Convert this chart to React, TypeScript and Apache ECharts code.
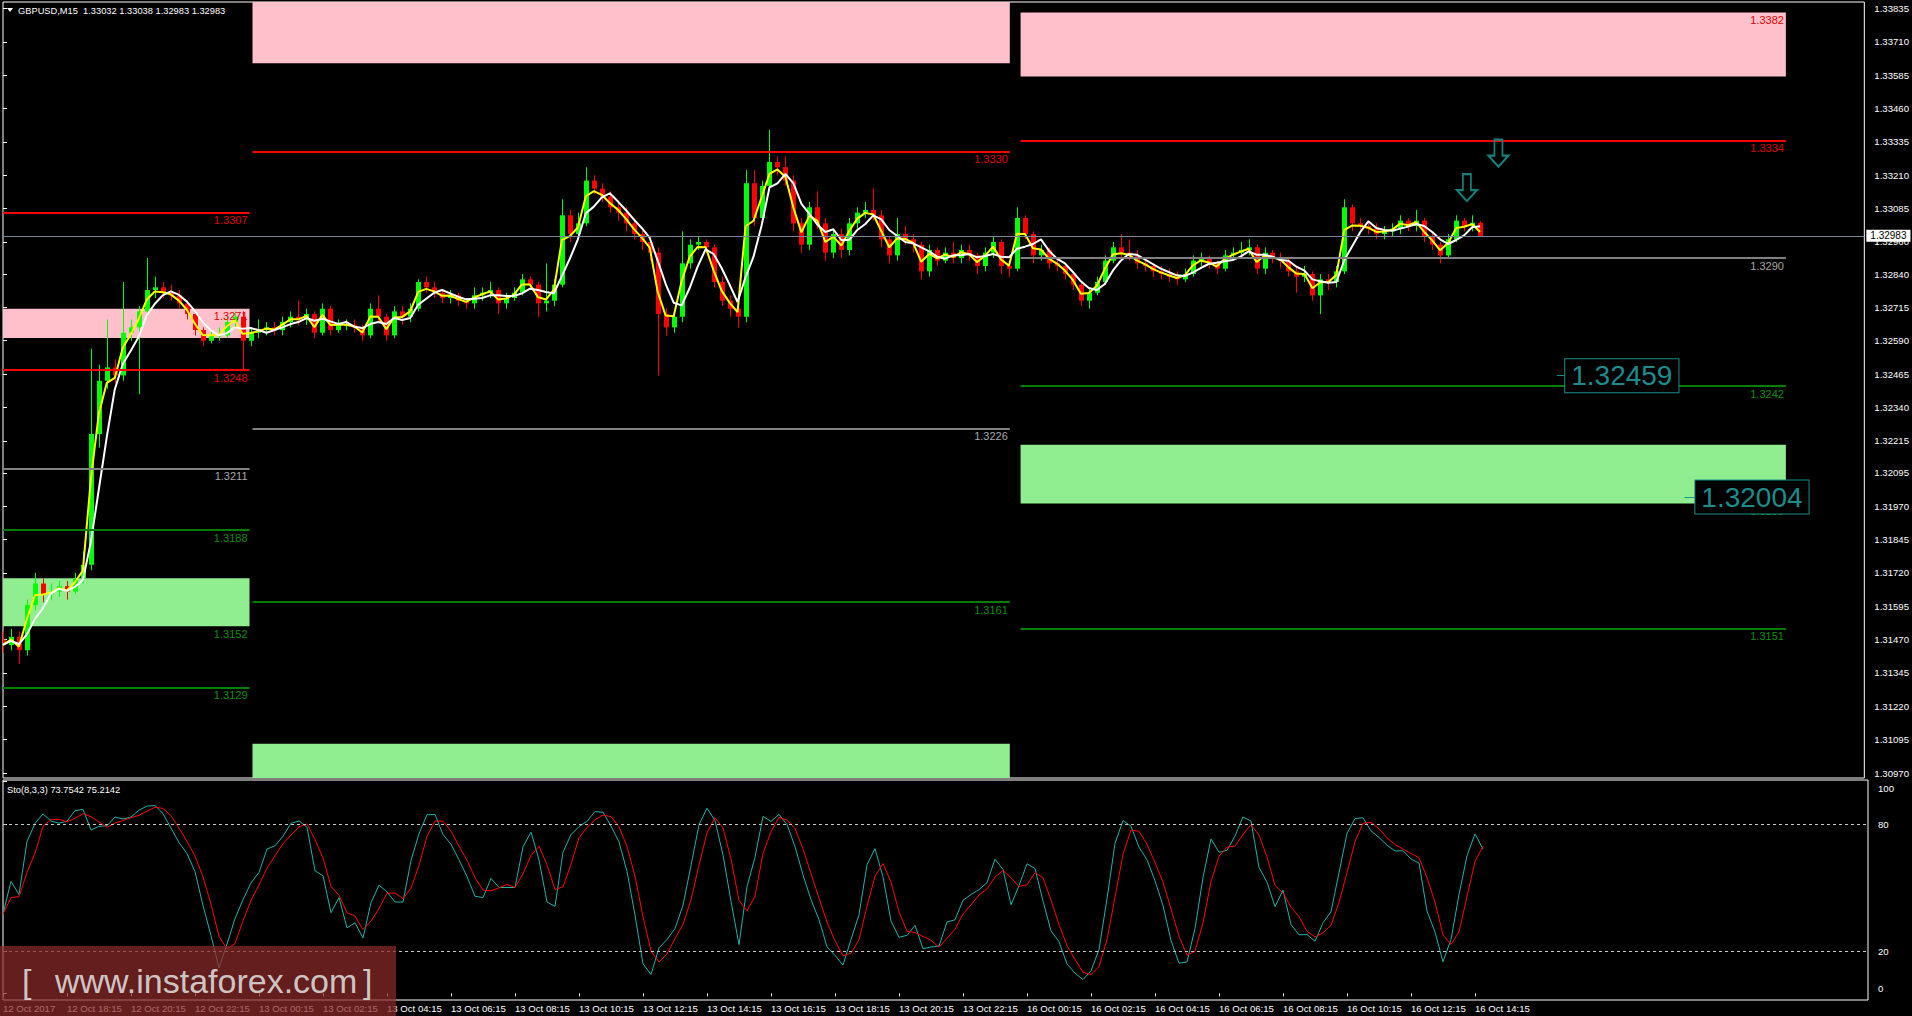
import React, { useEffect, useRef } from "react";
import * as echarts from "echarts";

// ---------- candle data (GBPUSD M15, bar 0 = 12 Oct 2017 16:15) ----------
const opens = [
  1.3147, 1.3145, 1.3148, 1.3143, 1.316, 1.3168, 1.3164, 1.3165, 1.3167, 1.3165,
  1.317, 1.3175, 1.3224, 1.3244, 1.3249, 1.3246, 1.3262, 1.3264, 1.327, 1.3278,
  1.3279, 1.3277, 1.3276, 1.3273, 1.3269, 1.3263, 1.3259, 1.3261, 1.3261, 1.3266,
  1.3268, 1.3259, 1.3262, 1.3263, 1.3264, 1.3263, 1.3266, 1.3268, 1.3267, 1.3269,
  1.3262, 1.3271, 1.3263, 1.3265, 1.3265, 1.3264, 1.3261, 1.3271, 1.3268, 1.3261,
  1.327, 1.3268, 1.3271, 1.3281, 1.3279, 1.3277, 1.3275, 1.3276, 1.3274, 1.3273,
  1.3276, 1.3277, 1.3278, 1.3273, 1.3275, 1.3277, 1.3282, 1.328, 1.3273, 1.3274,
  1.328, 1.3306, 1.3299, 1.3303, 1.3319, 1.3316, 1.3313, 1.3309, 1.3307, 1.3303,
  1.3299, 1.3296, 1.3292, 1.3269, 1.3264, 1.3268, 1.3288, 1.3295, 1.3296, 1.3294,
  1.3281, 1.3274, 1.3271, 1.3268, 1.3318, 1.3305, 1.3317, 1.3326, 1.3324, 1.3319,
  1.3303, 1.3295, 1.3309, 1.3303, 1.3292, 1.3299, 1.3293, 1.3303, 1.3307, 1.3308,
  1.3306, 1.3297, 1.3291, 1.3299, 1.3297, 1.3295, 1.3285, 1.3293, 1.3289, 1.3292,
  1.329, 1.3293, 1.3291, 1.3287, 1.3292, 1.3296, 1.3287, 1.3286, 1.3305, 1.3299,
  1.3291, 1.3293, 1.3288, 1.3287, 1.3284, 1.328, 1.3274, 1.3277, 1.3281, 1.3289,
  1.3294, 1.3292, 1.3291, 1.3288, 1.3287, 1.3285, 1.3284, 1.3283, 1.3282, 1.3284,
  1.3289, 1.329, 1.3288, 1.3286, 1.3291, 1.3292, 1.3293, 1.3294, 1.3286, 1.3292,
  1.329, 1.3289, 1.3285, 1.3283, 1.3284, 1.3276, 1.3282, 1.3281, 1.3285, 1.3309,
  1.3303, 1.3302, 1.3301, 1.3299, 1.33, 1.3301, 1.3304, 1.3302, 1.3304, 1.3298,
  1.3295, 1.3291, 1.3297, 1.3304, 1.3302, 1.33032,
];
const closes = [
  1.3145, 1.3148, 1.3143, 1.316, 1.3168, 1.3164, 1.3165, 1.3167, 1.3165, 1.317,
  1.3175, 1.3224, 1.3244, 1.3249, 1.3246, 1.3262, 1.3264, 1.327, 1.3278, 1.3279,
  1.3277, 1.3276, 1.3273, 1.3269, 1.3263, 1.3259, 1.3261, 1.3261, 1.3266, 1.3268,
  1.3259, 1.3262, 1.3263, 1.3264, 1.3263, 1.3266, 1.3268, 1.3267, 1.3269, 1.3262,
  1.3271, 1.3263, 1.3265, 1.3265, 1.3264, 1.3261, 1.3271, 1.3268, 1.3261, 1.327,
  1.3268, 1.3271, 1.3281, 1.3279, 1.3277, 1.3275, 1.3276, 1.3274, 1.3273, 1.3276,
  1.3277, 1.3278, 1.3273, 1.3275, 1.3277, 1.3282, 1.328, 1.3273, 1.3274, 1.328,
  1.3306, 1.3299, 1.3303, 1.3319, 1.3316, 1.3313, 1.3309, 1.3307, 1.3303, 1.3299,
  1.3296, 1.3292, 1.3269, 1.3264, 1.3268, 1.3288, 1.3295, 1.3296, 1.3294, 1.3281,
  1.3274, 1.3271, 1.3268, 1.3318, 1.3305, 1.3317, 1.3326, 1.3324, 1.3319, 1.3303,
  1.3295, 1.3309, 1.3303, 1.3292, 1.3299, 1.3293, 1.3303, 1.3307, 1.3308, 1.3306,
  1.3297, 1.3291, 1.3299, 1.3297, 1.3295, 1.3285, 1.3293, 1.3289, 1.3292, 1.329,
  1.3293, 1.3291, 1.3287, 1.3292, 1.3296, 1.3287, 1.3286, 1.3305, 1.3299, 1.3291,
  1.3293, 1.3288, 1.3287, 1.3284, 1.328, 1.3274, 1.3277, 1.3281, 1.3289, 1.3294,
  1.3292, 1.3291, 1.3288, 1.3287, 1.3285, 1.3284, 1.3283, 1.3282, 1.3284, 1.3289,
  1.329, 1.3288, 1.3286, 1.3291, 1.3292, 1.3293, 1.3294, 1.3286, 1.3292, 1.329,
  1.3289, 1.3285, 1.3283, 1.3284, 1.3276, 1.3282, 1.3281, 1.3285, 1.3309, 1.3303,
  1.3302, 1.3301, 1.3299, 1.33, 1.3301, 1.3304, 1.3302, 1.3304, 1.3298, 1.3295,
  1.3291, 1.3297, 1.3304, 1.3302, 1.33032, 1.32983,
];
const highs = [
  1.315, 1.3151, 1.315, 1.3162, 1.3172, 1.317, 1.3168, 1.3169, 1.3169, 1.3172,
  1.318, 1.3256, 1.325, 1.3267, 1.3252, 1.3281, 1.3267, 1.3272, 1.329, 1.3283,
  1.3281, 1.328, 1.3278, 1.3274, 1.327, 1.3264, 1.3263, 1.3264, 1.3268, 1.327,
  1.327, 1.3264, 1.3267, 1.3266, 1.3266, 1.3268, 1.327, 1.3274, 1.3271, 1.327,
  1.3273, 1.3272, 1.3267, 1.3267, 1.3267, 1.3265, 1.3273, 1.3276, 1.3269, 1.3272,
  1.3272, 1.3273, 1.3282, 1.3283, 1.3281, 1.3278, 1.3278, 1.3277, 1.3275, 1.3279,
  1.3279, 1.3281, 1.3279, 1.3277, 1.3279, 1.3284, 1.3283, 1.3281, 1.3288, 1.3282,
  1.3312, 1.3308, 1.3307, 1.3324, 1.3321, 1.3318, 1.3315, 1.3311, 1.3309, 1.3305,
  1.3301, 1.3298, 1.3294, 1.3271, 1.327, 1.33, 1.3297, 1.3298, 1.3297, 1.3295,
  1.3283, 1.3276, 1.3273, 1.3323, 1.3323, 1.3319, 1.3338, 1.3328, 1.3328, 1.3321,
  1.3305, 1.3311, 1.3315, 1.3305, 1.3301, 1.3301, 1.3305, 1.3309, 1.3311, 1.3316,
  1.3308, 1.3298, 1.3305, 1.3302, 1.3299, 1.3296, 1.3295, 1.3294, 1.3294, 1.3296,
  1.3295, 1.3295, 1.3292, 1.3294, 1.3298, 1.3297, 1.3289, 1.3309, 1.3306, 1.33,
  1.3295, 1.3294, 1.329, 1.3288, 1.3285, 1.3281, 1.3279, 1.3283, 1.3291, 1.3296,
  1.3299, 1.3297, 1.3293, 1.329, 1.3288, 1.3287, 1.3286, 1.3285, 1.3286, 1.3291,
  1.3292, 1.3291, 1.3289, 1.3293, 1.3294, 1.3296, 1.3297, 1.3295, 1.3294, 1.3293,
  1.3292, 1.329, 1.3287, 1.3287, 1.3285, 1.3284, 1.3284, 1.3287, 1.3312, 1.331,
  1.3305, 1.3304, 1.3303, 1.3302, 1.3303, 1.3306, 1.3305, 1.3308, 1.3305, 1.3299,
  1.3296, 1.3299, 1.3306, 1.3305, 1.3306, 1.33038,
];
const lows = [
  1.3142, 1.3143, 1.3138, 1.3141, 1.3158, 1.3161, 1.3162, 1.3163, 1.3162, 1.3164,
  1.3168, 1.3173, 1.3219, 1.3241, 1.3243, 1.3244, 1.3259, 1.3239, 1.3268, 1.3275,
  1.3275, 1.3274, 1.3271, 1.3267, 1.3261, 1.3257, 1.3258, 1.3259, 1.326, 1.3264,
  1.3248, 1.3257, 1.326, 1.3261, 1.3261, 1.3261, 1.3264, 1.3265, 1.3265, 1.326,
  1.3261, 1.3261, 1.3262, 1.3263, 1.3262, 1.3259, 1.326, 1.3266, 1.3259, 1.326,
  1.3265, 1.3266, 1.327, 1.3277, 1.3275, 1.3273, 1.3273, 1.3272, 1.3271, 1.3271,
  1.3274, 1.3275, 1.3269, 1.3271, 1.3274, 1.3276, 1.3278, 1.3268, 1.327, 1.3272,
  1.3279, 1.3296, 1.3297, 1.3302, 1.3314, 1.3311, 1.3307, 1.3304, 1.33, 1.3297,
  1.3293, 1.3289, 1.3246, 1.3261, 1.3262, 1.3266, 1.3286, 1.3293, 1.3292, 1.3279,
  1.3272, 1.3268, 1.3264, 1.3266, 1.3302, 1.3303, 1.3315, 1.3321, 1.3317, 1.33,
  1.3292, 1.3293, 1.3301, 1.3289, 1.329, 1.329, 1.3291, 1.3301, 1.3305, 1.3304,
  1.3294, 1.3288, 1.3289, 1.3295, 1.3292, 1.3282, 1.3283, 1.3287, 1.3288, 1.3288,
  1.3288, 1.3289, 1.3284, 1.3285, 1.329, 1.3284, 1.3283, 1.3285, 1.3297, 1.3288,
  1.3289, 1.3286, 1.3285, 1.3282, 1.3278, 1.3272, 1.3271, 1.3276, 1.328, 1.3288,
  1.329, 1.3289, 1.3286, 1.3285, 1.3283, 1.3282, 1.3281, 1.328, 1.3281, 1.3283,
  1.3287, 1.3286, 1.3284, 1.3285, 1.329, 1.3291, 1.3291, 1.3284, 1.3284, 1.3288,
  1.3286, 1.3283, 1.3277, 1.3281, 1.3274, 1.3269, 1.3278, 1.3279, 1.3284, 1.33,
  1.3299, 1.3299, 1.3297, 1.3297, 1.3298, 1.3299, 1.33, 1.33, 1.3296, 1.3293,
  1.3288, 1.329, 1.3296, 1.33, 1.33, 1.32983,
];

// ---------- axis tick labels ----------
const timeTickLabels = [
  "12 Oct 2017", "12 Oct 18:15", "12 Oct 20:15", "12 Oct 22:15", "13 Oct 00:15", "13 Oct 02:15",
  "13 Oct 04:15", "13 Oct 06:15", "13 Oct 08:15", "13 Oct 10:15", "13 Oct 12:15", "13 Oct 14:15",
  "13 Oct 16:15", "13 Oct 18:15", "13 Oct 20:15", "13 Oct 22:15", "16 Oct 00:15", "16 Oct 02:15",
  "16 Oct 04:15", "16 Oct 06:15", "16 Oct 08:15", "16 Oct 10:15", "16 Oct 12:15", "16 Oct 14:15",
];
const BARS_PER_TIME_LABEL = 8;
const priceTicks = [
  1.33835, 1.3371, 1.33585, 1.3346, 1.33335, 1.3321, 1.33085, 1.3296, 1.3284, 1.32715,
  1.3259, 1.32465, 1.3234, 1.32215, 1.32095, 1.3197, 1.31845, 1.3172, 1.31595, 1.3147,
  1.31345, 1.3122, 1.31095, 1.3097,
];
const stochTicks = [0, 20, 80, 100];
const stochLevels = [20, 80];
const lastBid = 1.32983;

// ---------- analysis objects (time anchors in bar units, prices) ----------
const sectionBars = [
  [0, 30.875],
  [31.25, 126.1],
  [127.45, 223.3],
];
const redLevels = [
  [0, 1.3307],
  [0, 1.3248],
  [1, 1.333],
  [2, 1.3334],
];
const greyLevels = [
  [0, 1.3211],
  [1, 1.3226],
  [2, 1.329],
];
const greenLevels = [
  [0, 1.3188],
  [0, 1.3129],
  [1, 1.3161],
  [2, 1.3242],
  [2, 1.3151],
];
const supplyZones = [
  [0, 1.326, 1.3271],
  [1, 1.3363, 1.3386],
  [2, 1.3358, 1.3382],
];
const demandZones = [
  [0, 1.3152, 1.317],
  [1, 1.3095, 1.3108],
  [2, 1.3198, 1.322],
];
const supplyZoneLabels = [
  [0, 1.3271],
  [2, 1.3382],
];
const demandZoneLabels = [
  [0, 1.3152],
  [2, 1.3198],
];
const priceTags = [
  [194.6, 195.6, 1.32459],
  [210.6, 211.9, 1.32004],
];
const arrowMarks = [
  [183.35, 1.33164],
  [187.3, 1.33293],
];

const XMAX = 233.125;
const PRICE_MIN = 1.309513;
const PRICE_MAX = 1.338594;
const STO_MIN = -3.15;
const STO_MAX = 100.79;

const FONT = "'Liberation Sans', Arial, sans-serif";
const TEAL = "#1c8c8c";
const RED = "#ff0000";
const GREEN_LINE = "#008000";
const GREY_LINE = "#808080";

function sma(vals: number[], n: number): number[] {
  return vals.map((_, i) => {
    const s = Math.max(0, i - n + 1);
    let sum = 0;
    for (let j = s; j <= i; j++) sum += vals[j];
    return sum / (i - s + 1);
  });
}
function ema(vals: number[], n: number): number[] {
  const k = 2 / (n + 1);
  let prev = vals[0];
  return vals.map((v, i) => {
    prev = i === 0 ? v : v * k + prev * (1 - k);
    return prev;
  });
}
function stochastic(h: number[], l: number[], c: number[], kp: number, slow: number, dp: number) {
  const num: number[] = [];
  const den: number[] = [];
  for (let i = 0; i < c.length; i++) {
    const s = Math.max(0, i - kp + 1);
    let hh = -Infinity;
    let ll = Infinity;
    for (let j = s; j <= i; j++) {
      hh = Math.max(hh, h[j]);
      ll = Math.min(ll, l[j]);
    }
    num.push(c[i] - ll);
    den.push(hh - ll);
  }
  const k = c.map((_, i) => {
    const s = Math.max(0, i - slow + 1);
    let a = 0;
    let b = 0;
    for (let j = s; j <= i; j++) {
      a += num[j];
      b += den[j];
    }
    return b === 0 ? 50 : (a / b) * 100;
  });
  const d = sma(k, dp);
  return { k, d };
}

function levelLine(sec: number, price: number, color: string, labelColor: string, showLine = true) {
  return [
    {
      coord: [sectionBars[sec][0], price],
      lineStyle: { color: showLine ? color : "rgba(0,0,0,0)", width: showLine ? 2 : 0, type: "solid" },
      label: {
        show: true,
        position: "insideEndBottom",
        distance: 2,
        formatter: price.toFixed(4),
        color: labelColor,
        fontSize: 11,
        fontFamily: FONT,
      },
    },
    { coord: [sectionBars[sec][1], price] },
  ];
}

export default function App() {
  const ref = useRef<HTMLDivElement>(null);
  useEffect(() => {
    document.body.style.margin = "0";
    document.body.style.background = "#000";
    document.body.style.overflow = "hidden";
    const chart = echarts.init(ref.current!, null, { renderer: "svg" });

    const candleData = closes.map((c, i) => [i, opens[i], c, lows[i], highs[i]]);
    const fast = ema(closes, 2);
    const slowMa = sma(closes, 4);
    const sto = stochastic(highs, lows, closes, 8, 3, 3);
    const timeTickPositions = timeTickLabels.map((_, k) => k * BARS_PER_TIME_LABEL);

    const markLines: any[] = [];
    redLevels.forEach(([s, p]) => markLines.push(levelLine(s, p, RED, "#e00000")));
    greyLevels.forEach(([s, p]) => markLines.push(levelLine(s, p, GREY_LINE, "#a8a8a8")));
    greenLevels.forEach(([s, p]) => markLines.push(levelLine(s, p, GREEN_LINE, "#0a900a")));
    supplyZoneLabels.forEach(([s, p]) => markLines.push(levelLine(s, p, RED, "#e00000", false)));
    demandZoneLabels.forEach(([s, p]) => markLines.push(levelLine(s, p, GREEN_LINE, "#0a900a", false)));
    priceTags.forEach(([x1, x2, p]) =>
      markLines.push([
        { coord: [x1, p], lineStyle: { color: TEAL, width: 1, type: "solid" }, label: { show: false } },
        { coord: [x2, p] },
      ])
    );
    markLines.push([
      {
        coord: [0, lastBid],
        lineStyle: { color: "#778899", width: 1, type: "solid" },
        label: {
          show: true,
          position: "end",
          distance: 2,
          formatter: lastBid.toFixed(5),
          color: "#000",
          backgroundColor: "#fff",
          padding: [1, 4, 1, 4],
          fontSize: 10,
          fontFamily: FONT,
        },
      },
      { coord: [XMAX, lastBid] },
    ]);

    const markAreas: any[] = [];
    supplyZones.forEach(([s, lo, hi]) =>
      markAreas.push([
        { coord: [sectionBars[s][0], hi], itemStyle: { color: "#ffc0cb", opacity: 1 } },
        { coord: [sectionBars[s][1], lo] },
      ])
    );
    demandZones.forEach(([s, lo, hi]) =>
      markAreas.push([
        { coord: [sectionBars[s][0], hi], itemStyle: { color: "#90ee90", opacity: 1 } },
        { coord: [sectionBars[s][1], lo] },
      ])
    );

    const option: any = {
      animation: false,
      backgroundColor: "#000",
      textStyle: { fontFamily: FONT },
      grid: [
        { left: 3, top: 2, width: 1865, height: 776, show: true, borderColor: "#fff", borderWidth: 1, backgroundColor: "transparent" },
        { left: 3, top: 780, width: 1865, height: 220, show: true, borderColor: "#fff", borderWidth: 1, backgroundColor: "transparent" },
      ],
      xAxis: [
        { gridIndex: 0, type: "value", min: 0, max: XMAX, show: false },
        {
          gridIndex: 1,
          type: "value",
          min: 0,
          max: XMAX,
          axisLine: { show: false },
          splitLine: { show: false },
          axisTick: { show: true, customValues: timeTickPositions, length: 3, lineStyle: { color: "#fff" } },
          axisLabel: {
            customValues: timeTickPositions,
            formatter: (v: number) => timeTickLabels[Math.round(v / BARS_PER_TIME_LABEL)] ?? "",
            color: "#fff",
            fontSize: 9.6,
            fontFamily: FONT,
            align: "left",
            margin: 3,
          },
        },
      ],
      yAxis: [
        {
          gridIndex: 0,
          type: "value",
          position: "right",
          min: PRICE_MIN,
          max: PRICE_MAX,
          axisLine: { show: false },
          splitLine: { show: false },
          axisTick: { show: true, customValues: priceTicks, length: 4, lineStyle: { color: "#fff" } },
          axisLabel: {
            customValues: priceTicks,
            formatter: (v: number) => v.toFixed(5),
            color: "#fff",
            fontSize: 9.6,
            fontFamily: FONT,
            margin: 10,
          },
        },
        {
          gridIndex: 1,
          type: "value",
          position: "right",
          min: STO_MIN,
          max: STO_MAX,
          axisLine: { show: false },
          splitLine: { show: false },
          axisTick: { show: true, customValues: stochTicks, length: 4, lineStyle: { color: "#fff" } },
          axisLabel: {
            customValues: stochTicks,
            formatter: (v: number) => {
              const t = String(Math.round(v));
              if (v >= 100) return "{top|" + t + "}";
              if (v <= 0) return "{bot|" + t + "}";
              return t;
            },
            color: "#fff",
            fontSize: 9.6,
            fontFamily: FONT,
            margin: 10,
            rich: {
              top: { color: "#fff", fontSize: 9.6, fontFamily: FONT, padding: [14, 0, 0, 0] },
              bot: { color: "#fff", fontSize: 9.6, fontFamily: FONT, padding: [0, 0, 10, 0] },
            },
          },
        },
      ],
      series: [
        {
          name: "zones",
          type: "line",
          xAxisIndex: 0,
          yAxisIndex: 0,
          data: [],
          z: 1,
          silent: true,
          markArea: { silent: true, data: markAreas },
        },
        {
          name: "levels",
          type: "line",
          xAxisIndex: 0,
          yAxisIndex: 0,
          data: [],
          z: 2,
          silent: true,
          markLine: { silent: true, precision: 6, symbol: ["none", "none"], data: markLines },
        },
        {
          name: "candles",
          type: "custom",
          xAxisIndex: 0,
          yAxisIndex: 0,
          z: 3,
          clip: true,
          data: candleData,
          encode: { x: 0, y: [1, 2, 3, 4] },
          renderItem: (params: any, api: any) => {
            const i = api.value(0);
            const o = api.value(1);
            const c = api.value(2);
            const l = api.value(3);
            const h = api.value(4);
            const pO = api.coord([i, o]);
            const pC = api.coord([i, c]);
            const pL = api.coord([i, l]);
            const pH = api.coord([i, h]);
            const color = c >= o ? "#00ff00" : "#ff0000";
            const cx = Math.round(pO[0]) + 0.5;
            const top = Math.min(pO[1], pC[1]);
            const bh = Math.max(1, Math.abs(pO[1] - pC[1]));
            return {
              type: "group",
              children: [
                { type: "line", shape: { x1: cx, y1: pH[1], x2: cx, y2: pL[1] }, style: { stroke: color, lineWidth: 1 } },
                { type: "rect", shape: { x: cx - 2.5, y: top, width: 5, height: bh }, style: { fill: color } },
              ],
            };
          },
        },
        {
          name: "MA fast",
          type: "line",
          xAxisIndex: 0,
          yAxisIndex: 0,
          z: 4,
          showSymbol: false,
          data: fast.map((v, i) => [i, v]),
          lineStyle: { color: "#ffff00", width: 2 },
        },
        {
          name: "MA slow",
          type: "line",
          xAxisIndex: 0,
          yAxisIndex: 0,
          z: 4,
          showSymbol: false,
          data: slowMa.map((v, i) => [i, v]),
          lineStyle: { color: "#ffffff", width: 2 },
        },
        {
          name: "tags",
          type: "line",
          xAxisIndex: 0,
          yAxisIndex: 0,
          data: [],
          z: 6,
          markPoint: {
            silent: true,
            data: [
              ...priceTags.map(([, x2, p]) => ({
                coord: [x2, p],
                symbol: "rect",
                symbolSize: 1,
                itemStyle: { color: "rgba(0,0,0,0)" },
                label: {
                  show: true,
                  position: "right",
                  distance: 0,
                  formatter: p.toFixed(5),
                  color: TEAL,
                  fontSize: 28,
                  fontFamily: FONT,
                  backgroundColor: "#000",
                  borderColor: TEAL,
                  borderWidth: 1,
                  padding: [3, 6, 2, 6],
                },
              })),
              ...arrowMarks.map(([x, p]) => ({
                coord: [x, p],
                symbol: "path://M6,0 L14,0 L14,16 L20,16 L10,27 L0,16 L6,16 Z",
                symbolSize: [20, 27],
                symbolKeepAspect: false,
                itemStyle: { color: "rgba(0,0,0,0)", borderColor: "#17807a", borderWidth: 2 },
                label: { show: false },
              })),
            ],
          },
        },
        {
          name: "Sto main",
          type: "line",
          xAxisIndex: 1,
          yAxisIndex: 1,
          showSymbol: false,
          data: sto.k.map((v, i) => [i, v]),
          lineStyle: { color: "#20b2aa", width: 1 },
          z: 3,
          markLine: {
            silent: true,
            symbol: ["none", "none"],
            label: { show: false },
            lineStyle: { color: "#c8c8c8", width: 1, type: [3, 3] },
            data: stochLevels.map((v) => ({ yAxis: v })),
          },
        },
        {
          name: "Sto signal",
          type: "line",
          xAxisIndex: 1,
          yAxisIndex: 1,
          showSymbol: false,
          data: sto.d.map((v, i) => [i, v]),
          lineStyle: { color: "#ff0000", width: 1 },
          z: 3,
        },
      ],
      graphic: [
        { type: "polygon", shape: { points: [[7, 8], [13, 8], [10, 12]] }, style: { fill: "#fff" }, z: 20 },
        {
          type: "text",
          x: 18,
          y: 10.5,
          z: 20,
          style: { text: "GBPUSD,M15  1.33032 1.33038 1.32983 1.32983", fill: "#fff", fontSize: 9.3, fontFamily: FONT, verticalAlign: "middle" },
        },
        {
          type: "text",
          x: 7,
          y: 789.5,
          z: 20,
          style: { text: "Sto(8,3,3) 73.7542 75.2142", fill: "#fff", fontSize: 9.3, fontFamily: FONT, verticalAlign: "middle" },
        },
        {
          type: "rect",
          shape: { x: 0, y: 946, width: 396, height: 70 },
          style: { fill: "rgba(140,42,42,0.72)" },
          z: 30,
        },
        {
          type: "text",
          x: 22,
          y: 981,
          z: 31,
          style: { text: "[", fill: "rgba(220,220,220,0.9)", fontSize: 34, fontFamily: FONT, verticalAlign: "middle" },
        },
        {
          type: "text",
          x: 55,
          y: 981,
          z: 31,
          style: { text: "www.instaforex.com", fill: "rgba(220,220,220,0.9)", fontSize: 34, fontFamily: FONT, verticalAlign: "middle" },
        },
        {
          type: "text",
          x: 363,
          y: 981,
          z: 31,
          style: { text: "]", fill: "rgba(220,220,220,0.9)", fontSize: 34, fontFamily: FONT, verticalAlign: "middle" },
        },
      ],
    };

    chart.setOption(option);
    return () => chart.dispose();
  }, []);

  return (
    <div
      ref={ref}
      style={{ position: "absolute", left: 0, top: 0, width: 1912, height: 1016, background: "#000" }}
    />
  );
}
